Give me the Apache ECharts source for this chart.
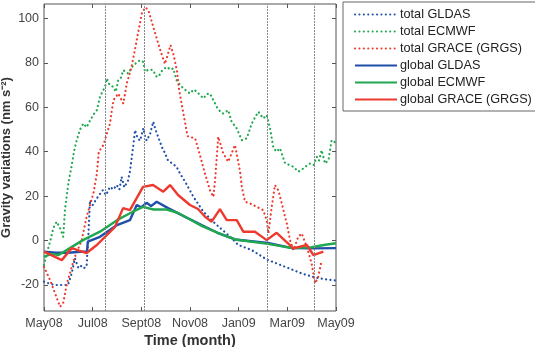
<!DOCTYPE html>
<html>
<head>
<meta charset="utf-8">
<script src="https://cdn.jsdelivr.net/npm/echarts@6/dist/echarts.min.js"></script>
<style>
  html, body { margin: 0; padding: 0; background: #fff; }
  #chart { width: 535px; height: 347px; }
</style>
</head>
<body>
<div id="chart"></div>
<script>
// x values are months since May 2008
const monthLabels = ['May08', 'Jul08', 'Sept08', 'Nov08', 'Jan09', 'Mar09', 'May09'];
const yTicks = [-20, 0, 20, 40, 60, 80, 100];
const eventLines = [2.5, 4.11, 9.19, 11.1];

const totalGldas = [
  [0, -18.5], [0.25, -19.5], [0.5, -20], [0.78, -20], [0.99, -20], [1.14, -14.7], [1.27, -8],
  [1.4, -12], [1.48, -11], [1.62, -12.5], [1.75, -11.8], [1.78, -5.6], [1.82, 1.7], [1.89, 18.2],
  [2.0, 16], [2.17, 19], [2.3, 21], [2.42, 22.7], [2.55, 20.5], [2.71, 24.2], [2.85, 23],
  [2.99, 25], [3.1, 23], [3.19, 28.7], [3.3, 24], [3.45, 27], [3.53, 31], [3.66, 42],
  [3.74, 49.7], [3.85, 46], [3.95, 45], [4.08, 50.6], [4.15, 47], [4.22, 45], [4.36, 48],
  [4.49, 53.5], [4.58, 50], [4.69, 46.7], [4.85, 42], [4.97, 39.4], [5.1, 36], [5.25, 34.9],
  [5.45, 33.2], [5.6, 30], [5.8, 26.5], [6.14, 19.7], [6.55, 13], [7.03, 7.7], [7.57, 2.5],
  [7.99, -2], [8.54, -4.3], [9.15, -8.5], [9.91, -11.8], [10.59, -14.8], [11.14, -16.6],
  [11.5, -17.3], [12, -18]
];
const totalEcmwf = [
  [0, -11], [0.08, -7], [0.25, -0.5], [0.38, 5.6], [0.52, 8.5], [0.66, 5.6], [0.79, 1.7],
  [0.86, 13.7], [1.0, 25.7], [1.14, 34], [1.23, 40], [1.34, 45], [1.48, 50], [1.62, 52.7],
  [1.75, 51], [1.89, 54], [2.05, 57], [2.17, 58.7], [2.3, 64.7], [2.4, 67], [2.51, 69.2],
  [2.58, 73], [2.7, 70], [2.85, 69.2], [2.95, 67], [3.05, 72.2], [3.15, 73], [3.26, 76.7],
  [3.46, 75.2], [3.67, 79], [3.8, 80], [3.95, 81.2], [4.08, 80.4], [4.15, 76], [4.3, 77],
  [4.49, 76.7], [4.6, 74], [4.7, 73.7], [4.85, 76.5], [5.04, 78.2], [5.2, 77], [5.31, 77.5],
  [5.45, 72.2], [5.6, 70], [5.73, 68.5], [6.0, 66.2], [6.15, 68], [6.28, 67], [6.55, 64],
  [6.7, 66], [6.82, 66.2], [7.1, 60.2], [7.25, 58], [7.37, 57.2], [7.57, 58.7], [7.71, 53.5],
  [7.92, 50.5], [8.13, 45.2], [8.33, 46], [8.54, 52.7], [8.7, 56], [8.81, 58], [9.01, 55],
  [9.15, 56.5], [9.29, 50.5], [9.42, 42.2], [9.55, 40], [9.7, 41.5], [9.91, 34.7],
  [10.1, 34], [10.25, 33.2], [10.45, 31], [10.6, 32], [10.73, 33.2], [10.93, 34.7],
  [11.08, 34], [11.21, 37.7], [11.3, 36], [11.41, 40.7], [11.55, 34.7], [11.69, 36.2],
  [11.82, 45.2], [12, 44]
];
const totalGrace = [
  [0, -11.8], [0.25, -17.8], [0.45, -23.6], [0.66, -29.8], [0.79, -28], [0.93, -20],
  [1.14, -11.8], [1.27, -7.3], [1.55, 0.2], [1.75, 10.7], [2.03, 21.2], [2.17, 30],
  [2.25, 40], [2.44, 43], [2.71, 52.7], [2.85, 63.2], [3.05, 66.2], [3.26, 61.7], [3.4, 70.7],
  [3.6, 78.2], [3.81, 90.2], [4.02, 102.3], [4.17, 105], [4.29, 103.7], [4.49, 96.2],
  [4.77, 86], [4.97, 79.5], [5.2, 88], [5.34, 83], [5.47, 76], [5.55, 68], [5.73, 57.2],
  [5.9, 47], [6.21, 46], [6.41, 38.5], [6.62, 30], [6.82, 22.7], [6.96, 19.7], [7.03, 27.2],
  [7.16, 46.7], [7.37, 39.2], [7.57, 35.5], [7.85, 43], [8.06, 31], [8.13, 24.2], [8.26, 17.5],
  [8.47, 16.7], [8.74, 15.2], [9.01, 13.7], [9.15, 9.2], [9.22, 3.2], [9.36, 15.2], [9.49, 25],
  [9.63, 22.7], [9.77, 16.7], [9.98, 7.7], [10.11, 0.2], [10.25, -4.3], [10.45, 1.7],
  [10.59, 3.2], [10.8, -2.8], [11.0, -10.3], [11.14, -19.3], [11.27, -16.3], [11.41, -8.8]
];
const globalGldas = [
  [0, -5], [0.5, -5.5], [1.0, -5.5], [1.5, -5], [1.77, -5], [1.8, -0.5], [2.3, 1.7],
  [3.0, 7], [3.53, 9.2], [3.81, 16], [4.0, 15], [4.22, 17], [4.4, 15.5], [4.63, 17.5],
  [5.1, 14.6], [5.8, 10.7], [6.48, 7], [7.15, 3.4], [7.85, 0.5], [9.2, -1.1], [10.2, -3.4],
  [11.0, -3.5], [12, -3.4]
];
const globalEcmwf = [
  [0, -7.3], [0.3, -6], [0.6, -6.5], [0.93, -4.3], [1.6, 0.2], [2.3, 4], [3.0, 9.2],
  [3.65, 13], [4.07, 15.2], [4.5, 14], [5.04, 14], [5.5, 12.5], [6.0, 9.5], [6.5, 6.5],
  [7.15, 3.5], [7.85, 0.5], [9.2, -1.5], [10.2, -3.4], [11.0, -3], [11.5, -2], [12, -1.2]
];
const globalGrace = [
  [0, -5], [0.73, -8.8], [1.14, -3.4], [1.75, -5.6], [2.17, -2], [2.58, 2.5], [2.92, 6.2],
  [3.25, 14.6], [3.53, 13.7], [4.07, 24.2], [4.48, 25], [4.9, 22], [5.18, 25], [5.51, 20.5],
  [6.0, 16], [6.33, 14.2], [6.62, 10.7], [6.89, 8.5], [7.23, 14.2], [7.51, 9.2], [7.92, 9.2],
  [8.19, 4], [8.67, 4], [9.15, 0.2], [9.56, 3.5], [10.25, -3.5], [10.8, -2], [11.07, -6.5],
  [11.48, -5]
];

const BLUE = '#1f4fa8';
const GREEN = '#1fa84f';
const RED = '#ee3a2e';
const dots = [0.1, 4.3];

function dotted(name, data, color) {
  return {
    name: name, type: 'line', data: data, symbol: 'none', z: 2,
    lineStyle: { color: color, width: 2.2, type: dots, cap: 'round' },
    itemStyle: { color: color }
  };
}
function solid(name, data, color) {
  return {
    name: name, type: 'line', data: data, symbol: 'none', z: 3,
    lineStyle: { color: color, width: 2.4 },
    itemStyle: { color: color }
  };
}

const chart = echarts.init(document.getElementById('chart'));
const font = 'Liberation Sans, Arial, sans-serif';
const tickStyle = { show: true, inside: true, length: 4, lineStyle: { color: '#555' } };

const option = {
  animation: false,
  textStyle: { fontFamily: font },
  grid: {
    left: 44, right: 199, top: 4, bottom: 36, outerBoundsMode: 'none', containLabel: false,
    show: true, borderColor: '#555', borderWidth: 1
  },
  legend: {
    orient: 'vertical', left: 343, top: 2, padding: [6, 4, 5, 11], itemGap: 4,
    itemWidth: 42, itemHeight: 12, borderColor: '#666', borderWidth: 1, backgroundColor: '#fff',
    itemStyle: { opacity: 0 },
    textStyle: { fontFamily: font, fontSize: 12.7, color: '#222', padding: [0, 0, 0, -2] },
    data: ['total GLDAS', 'total ECMWF', 'total GRACE (GRGS)', 'global GLDAS', 'global ECMWF', 'global GRACE (GRGS)']
  },
  xAxis: [{
    type: 'value', min: 0, max: 12, interval: 2,
    name: 'Time (month)', nameLocation: 'middle', nameGap: 22, nameMoveOverlap: false,
    nameTextStyle: { fontFamily: font, fontSize: 14.5, fontWeight: 'bold', color: '#333' },
    axisLine: { show: false, onZero: false }, splitLine: { show: false }, axisTick: tickStyle,
    axisLabel: { color: '#444', fontSize: 12.5, margin: 6, formatter: v => monthLabels[Math.round(v / 2)] }
  }, {
    type: 'value', min: 0, max: 12, interval: 2, position: 'top',
    axisLine: { show: false, onZero: false }, splitLine: { show: false }, axisTick: tickStyle, axisLabel: { show: false }
  }],
  yAxis: [{
    type: 'value', min: -31.7, max: 106.5,
    name: 'Gravity variations (nm s⁻²)', nameLocation: 'middle', nameGap: 31, nameMoveOverlap: false,
    nameTextStyle: { fontFamily: font, fontSize: 13, fontWeight: 'bold', color: '#333' },
    axisLine: { show: false, onZero: false }, splitLine: { show: false },
    axisTick: Object.assign({ customValues: yTicks }, tickStyle),
    axisLabel: { color: '#444', fontSize: 12.5, margin: 5, customValues: yTicks }
  }, {
    type: 'value', min: -31.7, max: 106.5, position: 'right',
    axisLine: { show: false, onZero: false }, splitLine: { show: false },
    axisTick: Object.assign({ customValues: yTicks }, tickStyle), axisLabel: { show: false }
  }],
  series: [
    dotted('total GLDAS', totalGldas, BLUE),
    dotted('total ECMWF', totalEcmwf, GREEN),
    dotted('total GRACE (GRGS)', totalGrace, RED),
    solid('global GLDAS', globalGldas, BLUE),
    solid('global ECMWF', globalEcmwf, GREEN),
    solid('global GRACE (GRGS)', globalGrace, RED),
    {
      type: 'line', data: [], z: 1,
      markLine: {
        silent: true, symbol: 'none', label: { show: false },
        lineStyle: { color: '#888', width: 1, type: [2, 1] },
        data: eventLines.map(v => ({ xAxis: v }))
      }
    }
  ]
};
chart.setOption(option);
</script>
</body>
</html>
